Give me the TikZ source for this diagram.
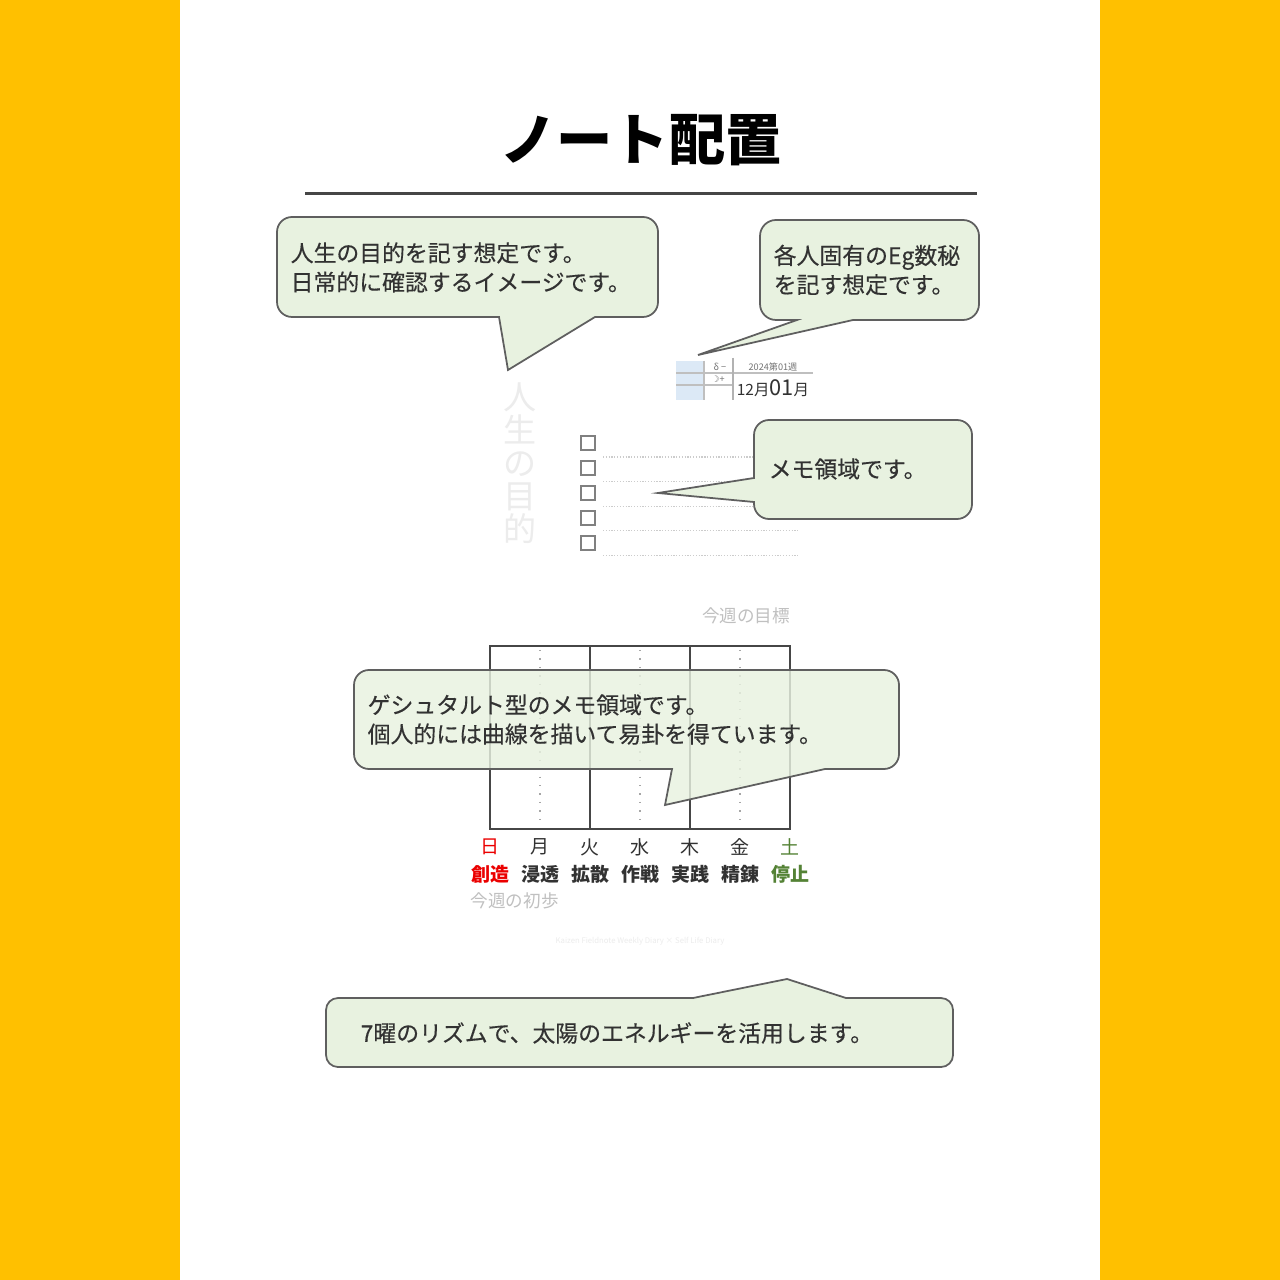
\documentclass[tikz,border=0pt]{standalone}
\usepackage{fontspec}
\setmainfont{Noto Sans CJK JP}
\newfontfamily\symfont{DejaVu Sans}
\newfontfamily\bubblefont{Noto Sans CJK JP}[FakeBold=0.35]
\usepackage{xcolor}
\definecolor{sideYellow}{RGB}{255,192,0}
\definecolor{bubbleGreen}{RGB}{232,242,224}
\definecolor{bubbleLine}{RGB}{95,95,95}
\definecolor{inkGray}{RGB}{50,50,50}
\definecolor{faintGray}{RGB}{192,192,192}
\definecolor{ghostGray}{RGB}{236,236,236}
\definecolor{sunRed}{RGB}{235,0,0}
\definecolor{satGreen}{RGB}{84,130,53}
\definecolor{cellBlue}{RGB}{220,233,246}
\definecolor{gridGray}{RGB}{70,70,70}
\usetikzlibrary{positioning}
\tikzset{
  bubble/.style={draw=bubbleLine,fill=bubbleGreen,line width=0.5pt},
  btext/.style={anchor=west,align=left,text=inkGray,inner sep=0pt,
    font=\bubblefont\fontsize{6.5}{8.3}\selectfont},
  day/.style={text=inkGray,inner sep=0pt,font=\fontsize{5.4}{6}\selectfont},
  role/.style={text=inkGray,inner sep=0pt,font=\bfseries\fontsize{5.4}{6}\selectfont},
  hint/.style={text=faintGray,inner sep=0pt,font=\fontsize{5}{6}\selectfont},
  checkbox/.style={draw=gray,line width=0.45pt,minimum size=1.4mm,inner sep=0pt},
  memoline/.style={draw=gray!40,dash pattern=on 0.35pt off 0.45pt,line width=0.3pt},
  tiny/.style={text=gray!90!black,inner sep=0pt,font=\fontsize{2.6}{3}\selectfont}
}

\begin{document}
\begin{tikzpicture}[x=0.01cm,y=-0.01cm]
  \useasboundingbox (0,0) rectangle (1280,1280);
  \fill[sideYellow] (0,0) rectangle (180,1280);
  \fill[sideYellow] (1100,0) rectangle (1280,1280);
  \fill[white] (180,0) rectangle (1100,1280);

  % title
  \node[font=\bfseries\fontsize{16}{18}\selectfont] (title) at (641,140) {ノート配置};
  \draw[gridGray,line width=0.85pt] (305,194) -- (977,194);

  % note page: header block
  \fill[cellBlue] (676,361) rectangle (704,400);
  \draw[gray!50,line width=0.3pt] (676,373) -- (813,373);
  \draw[gray!50,line width=0.3pt] (676,385) -- (733,385);
  \draw[gray!50,line width=0.3pt] (704,361) -- (704,400);
  \draw[gray!60,line width=0.3pt] (733,358) -- (733,400);
  \node[tiny] (sign) at (720,367) {δ −};
  \node[tiny] (moon) at (718,379) {{\symfont ☽}+};
  \node[tiny] (week) at (773,367) {2024第01週};
  \node[inner sep=0pt,text=inkGray,font=\fontsize{4.4}{5}\selectfont] (date) at (773,388)
    {12月{\fontsize{6.2}{7}\selectfont 01}月};

  % life purpose (vertical)
  \node[align=center,inner sep=0pt,text=ghostGray,font=\fontsize{9.4}{9.4}\selectfont] (purpose)
    at (520,463) {人\\生\\の\\目\\的};

  % check list
  \foreach \i in {0,...,4} {
    \node[checkbox] (cb\i) at (588,{443+25*\i}) {};
    \draw[memoline] (603,{457+24.6*\i}) -- (798,{457+24.6*\i});
  }

  % weekly goal
  \node[hint] (goal) at (746,616) {今週の目標};

  % gestalt grid
  \draw[gridGray,line width=0.45pt] (490,646) rectangle (790,829);
  \draw[gridGray,line width=0.45pt] (590,646) -- (590,829);
  \draw[gridGray,line width=0.45pt] (690,646) -- (690,829);
  \foreach \x in {540,640,740}
    \draw[gray!70,dotted,line width=0.4pt] (\x,650) -- (\x,826);

  % weekdays
  \node[day,text=sunRed] (d0) at (490,847) {日};
  \node[role,text=sunRed] (r0) at (490,874) {創造};
  \foreach \d/\r [count=\i] in {月/浸透,火/拡散,水/作戦,木/実践,金/精錬} {
    \node[day] (d\i) at ({490+50*\i},847) {\d};
    \node[role] (r\i) at ({490+50*\i},874) {\r};
  }
  \node[day,text=satGreen] (d6) at (790,847) {土};
  \node[role,text=satGreen] (r6) at (790,874) {停止};
  \node[hint,anchor=west] (first) at (470,901) {今週の初歩};
  \node[inner sep=0pt,text=ghostGray,font=\fontsize{2.2}{3}\selectfont] (footer) at (640,941)
    {Kaizen Fieldnote Weekly Diary × Self Life Diary};

  % callouts
  \draw[bubble] (292,217) -- (643,217) arc[start angle=-90,end angle=0,radius=15]
    -- (658,302) arc[start angle=0,end angle=90,radius=15]
    -- (595,317) -- (508,370) -- (499,317)
    -- (292,317) arc[start angle=90,end angle=180,radius=15]
    -- (277,232) arc[start angle=180,end angle=270,radius=15] -- cycle;
  \node[btext] (purposetext) at (290,267.5)
    {人生の目的を記す想定です。\\日常的に確認するイメージです。};

  \draw[bubble] (776,220) -- (963,220) arc[start angle=-90,end angle=0,radius=16]
    -- (979,304) arc[start angle=0,end angle=90,radius=16]
    -- (853,320) -- (698,355) -- (797,320)
    -- (776,320) arc[start angle=90,end angle=180,radius=16]
    -- (760,236) arc[start angle=180,end angle=270,radius=16] -- cycle;
  \node[btext] (egtext) at (773,270) {各人固有のEg数秘\\を記す想定です。};

  \draw[bubble] (769,420) -- (957,420) arc[start angle=-90,end angle=0,radius=15]
    -- (972,504) arc[start angle=0,end angle=90,radius=15]
    -- (769,519) arc[start angle=90,end angle=180,radius=15]
    -- (754,502) -- (658,493) -- (754,478)
    -- (754,435) arc[start angle=180,end angle=270,radius=15] -- cycle;
  \node[btext] (memotext) at (768,469) {メモ領域です。};

  \draw[bubble,fill opacity=0.82] (369,670) -- (884,670) arc[start angle=-90,end angle=0,radius=15]
    -- (899,754) arc[start angle=0,end angle=90,radius=15]
    -- (825,769) -- (665,805) -- (672,769)
    -- (369,769) arc[start angle=90,end angle=180,radius=15]
    -- (354,685) arc[start angle=180,end angle=270,radius=15] -- cycle;
  \node[btext] (gestalttext) at (367,719.5)
    {ゲシュタルト型のメモ領域です。\\個人的には曲線を描いて易卦を得ています。};

  \draw[bubble] (338,998) -- (693,998) -- (787,979) -- (846,998)
    -- (941,998) arc[start angle=-90,end angle=0,radius=12]
    -- (953,1055) arc[start angle=0,end angle=90,radius=12]
    -- (338,1067) arc[start angle=90,end angle=180,radius=12]
    -- (326,1010) arc[start angle=180,end angle=270,radius=12] -- cycle;
  \node[btext] (suntext) at (360,1033) {7曜のリズムで、太陽のエネルギーを活用します。};
\end{tikzpicture}
\end{document}
